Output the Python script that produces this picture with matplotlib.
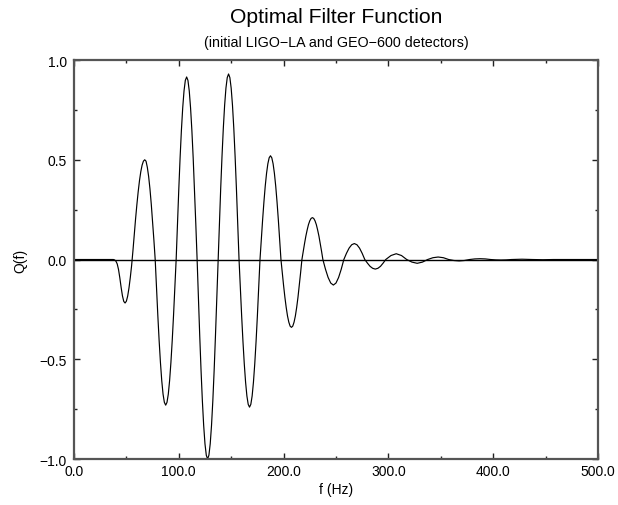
import matplotlib
matplotlib.use("Agg")
import matplotlib.pyplot as plt
from matplotlib.ticker import MultipleLocator, FuncFormatter

plt.rcParams['font.family'] = ['Liberation Sans', 'DejaVu Sans']

# Optimal filter Q(f)
freq_hz = [
    0.0,
    35.0, 36.25, 37.5, 38.75, 40.0, 41.25, 42.5, 43.75, 45.0, 46.25,
    47.5, 48.75, 50.0, 51.25, 52.5, 53.75, 55.0, 56.25,
    57.5, 58.75, 60.0, 61.25, 62.5, 63.75, 65.0, 66.25,
    67.5, 68.75, 70.0, 71.25, 72.5, 73.75, 75.0, 76.25, 77.5,
    78.75, 80.0, 81.25, 82.5, 83.75, 85.0, 86.25, 87.5,
    88.75, 90.0, 91.25, 92.5, 93.75, 95.0, 96.25, 97.5,
    98.75, 100.0, 101.25, 102.5, 103.75, 105.0, 106.25, 107.5,
    108.75, 110.0, 111.25, 112.5, 113.75, 115.0, 116.25, 117.5,
    118.75, 120.0, 121.25, 122.5, 123.75, 125.0, 126.25, 127.5,
    128.75, 130.0, 131.25, 132.5, 133.75, 135.0, 136.25, 137.5,
    138.75, 140.0, 141.25, 142.5, 143.75, 145.0, 146.25, 147.5,
    148.75, 150.0, 151.25, 152.5, 153.75, 155.0, 156.25, 157.5,
    158.75, 160.0, 161.25, 162.5, 163.75, 165.0, 166.25, 167.5,
    168.75, 170.0, 171.25, 172.5, 173.75, 175.0, 176.25, 177.5,
    178.75, 180.0, 181.25, 182.5, 183.75, 185.0, 186.25, 187.5,
    188.75, 190.0, 191.25, 192.5, 193.75, 195.0, 196.25, 197.5,
    198.75, 200.0, 201.25, 202.5, 203.75, 205.0, 206.25, 207.5,
    208.75, 210.0, 211.25, 212.5, 213.75, 215.0, 216.25, 217.5,
    218.75, 220.0, 221.25, 222.5, 223.75, 225.0, 226.25, 227.5,
    228.75, 230.0, 231.25, 232.5, 233.75, 235.0, 236.25, 237.5,
    240.0, 242.5, 245.0, 247.5, 250.0, 252.5, 255.0, 257.5,
    260.0, 262.5, 265.0, 267.5, 270.0, 272.5, 275.0, 277.5,
    280.0, 282.5, 285.0, 287.5, 290.0, 292.5, 295.0, 297.5,
    302.5, 307.5, 312.5, 317.5,
    322.5, 327.5, 332.5, 337.5,
    342.5, 347.5, 352.5, 357.5,
    362.5, 367.5, 372.5, 377.5,
    382.5, 387.5, 392.5, 397.5,
    402.5, 407.5, 412.5, 417.5,
    422.5, 427.5, 432.5, 437.5,
    442.5, 447.5, 452.5, 457.5,
    500.0,
]
q_vals = [
    0.0,
    0.0, 0.0, 0.0, -0.002, -0.008, -0.022, -0.05, -0.092, -0.14, -0.182,
    -0.21, -0.218, -0.209, -0.183, -0.142, -0.09, -0.03, 0.043,
    0.124, 0.202, 0.274, 0.339, 0.395, 0.44, 0.473, 0.493,
    0.50, 0.493, 0.462, 0.416, 0.354, 0.278, 0.191, 0.098, 0.0,
    -0.142, -0.28, -0.406, -0.516, -0.607, -0.675, -0.716, -0.73,
    -0.716, -0.675, -0.607, -0.516, -0.406, -0.28, -0.142, 0.0,
    0.178, 0.35, 0.509, 0.647, 0.76, 0.845, 0.898, 0.915,
    0.898, 0.845, 0.76, 0.647, 0.509, 0.35, 0.178, 0.0,
    -0.195, -0.383, -0.556, -0.707, -0.831, -0.924, -0.981, -1.0,
    -0.981, -0.924, -0.831, -0.707, -0.556, -0.383, -0.195, 0.0,
    0.181, 0.356, 0.517, 0.658, 0.773, 0.859, 0.912, 0.93,
    0.912, 0.859, 0.773, 0.658, 0.517, 0.356, 0.181, 0.0,
    -0.144, -0.283, -0.411, -0.523, -0.615, -0.684, -0.726, -0.74,
    -0.726, -0.684, -0.615, -0.523, -0.411, -0.283, -0.144, 0.0,
    0.101, 0.199, 0.289, 0.368, 0.432, 0.48, 0.51, 0.52,
    0.51, 0.48, 0.432, 0.368, 0.289, 0.199, 0.101, 0.0,
    -0.066, -0.13, -0.189, -0.24, -0.283, -0.314, -0.334, -0.34,
    -0.334, -0.314, -0.283, -0.24, -0.189, -0.13, -0.066, 0.0,
    0.041, 0.08, 0.117, 0.148, 0.175, 0.194, 0.206, 0.21,
    0.206, 0.194, 0.175, 0.148, 0.117, 0.08, 0.041, 0.0,
    -0.049, -0.09, -0.118, -0.128, -0.118, -0.09, -0.049, 0.0,
    0.031, 0.057, 0.074, 0.08, 0.074, 0.057, 0.031, 0.0,
    -0.018, -0.034, -0.044, -0.048, -0.044, -0.034, -0.018, 0.0,
    0.02, 0.029, 0.02, 0.0,
    -0.013, -0.019, -0.013, 0.0,
    0.009, 0.0125, 0.009, 0.0,
    -0.005, -0.007, -0.005, 0.0,
    0.003, 0.004, 0.003, 0.0,
    -0.0018, -0.0025, -0.0018, 0.0,
    0.001, 0.0015, 0.001, 0.0,
    -0.0007, -0.001, -0.0007, 0.0,
    0.0,
]

fig = plt.figure(figsize=(6.18, 5.06), dpi=100)
ax = fig.add_axes([0.1197, 0.0909, 0.8479, 0.7885])

ax.axhline(0.0, color='black', lw=1.0)
ax.plot(freq_hz, q_vals, color='black', lw=0.85)

ax.set_xlim(0, 500)
ax.set_ylim(-1.0, 1.0)
ax.xaxis.set_major_locator(MultipleLocator(100))
ax.xaxis.set_minor_locator(MultipleLocator(50))
ax.yaxis.set_major_locator(MultipleLocator(0.5))
ax.yaxis.set_minor_locator(MultipleLocator(0.25))
fmt = FuncFormatter(lambda v, p: f"{v:.1f}".replace('-', '\u2212'))
ax.xaxis.set_major_formatter(fmt)
ax.yaxis.set_major_formatter(fmt)
ax.tick_params(which='both', direction='in', top=True, right=True,
               color='#222222', labelsize=10)
ax.tick_params(which='major', length=4, width=1.0)
ax.tick_params(which='minor', length=2.5, width=1.0)
ax.tick_params(axis='x', pad=3.5)
ax.tick_params(axis='y', pad=5)
for sp in ax.spines.values():
    sp.set_color('#555555')
    sp.set_linewidth(1.6)

ax.set_xlabel("f (Hz)", fontsize=10, labelpad=3)
ax.set_ylabel("Q(f)", fontsize=10, labelpad=9)

fig.text(0.5437, 0.9551, "Optimal Filter Function", ha='center',
         va='baseline', fontsize=15.2)
fig.text(0.5437, 0.9077, "(initial LIGO\u2212LA and GEO\u2212600 detectors)",
         ha='center', va='baseline', fontsize=10.3)

fig.savefig("out.png", dpi=100)
